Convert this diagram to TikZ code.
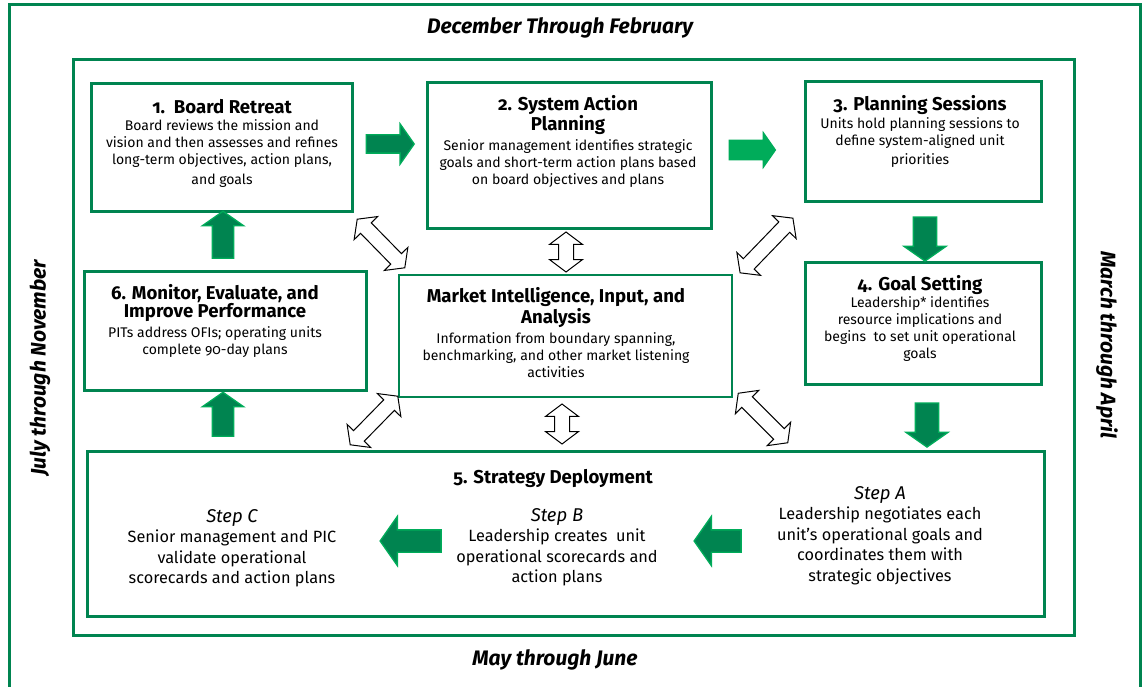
\documentclass[tikz,border=0pt]{standalone}
\usepackage{fontspec}
\setmainfont{Fira Sans}[Numbers=OldStyle]
\usetikzlibrary{shapes.arrows}
\definecolor{dg}{RGB}{0,132,80}
\definecolor{lg}{RGB}{0,172,90}
\newcommand{\ttlf}{\bfseries\fontsize{18.6}{22}\selectfont}
\newcommand{\bodyf}{\fontsize{14}{17}\selectfont}
\newcommand{\stepf}{\fontsize{16.3}{20.5}\selectfont}
\newcommand{\steplf}{\itshape\fontsize{18.5}{20.5}\selectfont}
\newcommand{\lblf}{\bfseries\itshape\fontsize{21}{24}\selectfont}
\begin{document}
\begin{tikzpicture}[x=1pt,y=-1pt,
  frame/.style={draw=dg,line width=3pt},
  box/.style={draw=dg,line width=3pt,inner sep=0pt,rectangle},
  mbox/.style={draw=dg,line width=1.4pt,inner sep=0pt,rectangle},
  txt/.style={inner sep=0pt,align=center,font=\bodyf,anchor=north},
  steptxt/.style={inner sep=0pt,align=center,font=\stepf,anchor=north},
  lbl/.style={inner sep=0pt,font=\lblf},
  garrow/.style={single arrow,fill=dg,draw=lg,line width=1.3pt,inner xsep=0pt,
     single arrow tip angle=110,single arrow head indent=0pt},
  darrow/.style={double arrow,draw=black,fill=white,line width=1pt,inner xsep=0pt,
     inner ysep=7pt,minimum width=32pt,double arrow head extend=9pt,double arrow tip angle=106,
     double arrow head indent=0pt}
]
\useasboundingbox (0,0) rectangle (1142,687);
\fill[white] (0,0) rectangle (1142,687);
% outer frame (bottom edge outside the picture)
\draw[frame] (9,690) -- (9,5) -- (1140,5) -- (1140,690);
% inner frame
\node[box,minimum width=1001pt,minimum height=575pt] (inner) at (573.5,347.5) {};
% boxes
\node[box,minimum width=261pt,minimum height=127pt] (b1) at (221.5,147.5) {};
\node[box,minimum width=284pt,minimum height=145pt] (b2) at (569,155.5) {};
\node[box,minimum width=236pt,minimum height=119pt] (b3) at (923,141.5) {};
\node[box,minimum width=236pt,minimum height=122pt] (b4) at (923,323) {};
\node[box,minimum width=282pt,minimum height=119pt] (b6) at (225,330.5) {};
\node[mbox,minimum width=333pt,minimum height=122pt] (mk) at (565.5,336) {};
\node[box,minimum width=957pt,minimum height=165pt] (b5) at (565.5,533.5) {};
% texts
\node[txt] (t1) at (222,99) {{\ttlf 1.\ \ Board Retreat}\\
  Board reviews the mission and\\ vision and then assesses and refines\\
  long-term objectives, action plans,\\[3pt] and goals};
\node[txt] (t2) at (568,95) {{\ttlf 2. System Action}\\{\ttlf Planning}\\[3pt]
  Senior management identifies strategic\\ goals and short-term action plans based\\
  on board objectives and plans};
\node[txt] (t3) at (920,95) {{\ttlf 3. Planning Sessions}\\[1pt]
  Units hold planning sessions to\\ define system-aligned unit\\[2pt] priorities};
\node[txt] (t4) at (920,275) {{\ttlf 4. Goal Setting}\\
  Leadership* identifies\\ resource implications and\\ begins\ \ to set unit operational\\ goals};
\node[txt] (t6) at (215,284) {{\ttlf 6. Monitor, Evaluate, and}\\{\ttlf Improve Performance}\\[3pt]
  PITs address OFIs; operating units\\ complete 90-day plans};
\node[txt] (tm) at (556,287) {{\ttlf Market Intelligence, Input, and}\\[1pt]{\ttlf Analysis}\\[3pt]
  Information from boundary spanning,\\ benchmarking, and other market listening\\ activities};
\node[inner sep=0pt,font=\ttlf] (t5) at (553,479) {5. Strategy Deployment};
\node[steptxt] (sc) at (232,509) {{\steplf Step C}\\
  Senior management and PIC\\ validate operational\\ scorecards and action plans};
\node[steptxt] (sb) at (557,508) {{\steplf Step B}\\
  Leadership creates\ \ unit\\ operational scorecards and\\ action plans};
\node[steptxt] (sa) at (880,486) {{\steplf Step A}\\
  Leadership negotiates each\\ unit’s operational goals and\\ coordinates them with\\ strategic objectives};
% period labels
\node[lbl] (dec) at (560,28) {December Through February};
\node[lbl] (may) at (555,660) {May through June};
\node[lbl,rotate=90] (jul) at (40,368) {July through November};
\node[lbl,rotate=-90] (mar) at (1107,345) {March through April};
% green block arrows
\node[garrow,inner ysep=8.5pt,minimum height=48pt,minimum width=39pt,single arrow head extend=11pt] (a12) at (387,144) {};
\node[garrow,fill=lg,inner ysep=9pt,minimum height=46pt,minimum width=33pt,single arrow head extend=7.5pt] (a23) at (749,150) {};
\node[garrow,rotate=-90,inner ysep=11pt,minimum height=44pt,minimum width=41pt,single arrow head extend=9.5pt] (a34) at (925,235) {};
\node[garrow,rotate=-90,inner ysep=11pt,minimum height=44pt,minimum width=41pt,single arrow head extend=9.5pt] (a45) at (927,421) {};
\node[garrow,rotate=90,inner ysep=10pt,minimum height=47pt,minimum width=40pt,single arrow head extend=10pt] (a61) at (223,238.5) {};
\node[garrow,rotate=90,inner ysep=10pt,minimum height=44pt,minimum width=40pt,single arrow head extend=10pt] (a56) at (223,418) {};
\node[garrow,rotate=180,inner ysep=10.5pt,minimum height=61pt,minimum width=48pt,single arrow head extend=13.5pt] (abc) at (414.5,541) {};
\node[garrow,rotate=180,inner ysep=10.5pt,minimum height=47pt,minimum width=48pt,single arrow head extend=13.5pt] (aab) at (721.5,541) {};
% white double arrows
\node[darrow,rotate=-45.6,minimum height=68pt] (d1) at (381,243.5) {};
\node[darrow,rotate=90,minimum height=40pt] (d2) at (566,252) {};
\node[darrow,rotate=46,minimum height=76pt] (d3) at (766.5,245.5) {};
\node[darrow,rotate=45.6,minimum height=68pt] (d4) at (374,420.5) {};
\node[darrow,rotate=90,minimum height=40pt] (d5) at (562,424) {};
\node[darrow,rotate=-45,minimum height=70pt] (d6) at (763,418) {};
\end{tikzpicture}
\end{document}
